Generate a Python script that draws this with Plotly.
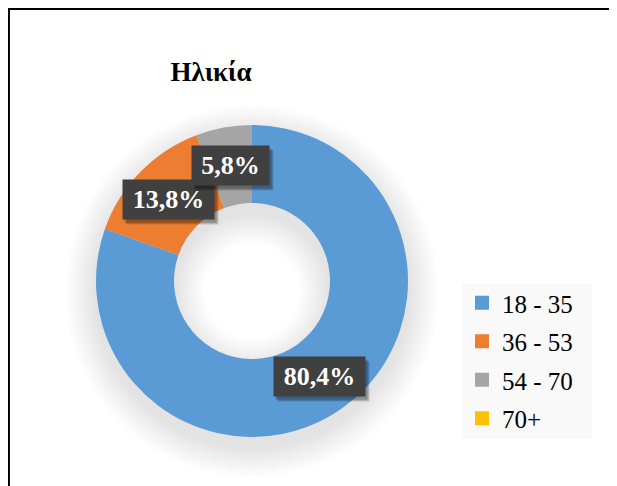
import math
import plotly.graph_objects as go

# ---- data ----
categories = ["18 - 35", "36 - 53", "54 - 70", "70+"]
values = [80.4, 13.8, 5.8, 0.0]
colors = ["#5B9BD5", "#ED7D31", "#A5A5A5", "#FFC000"]
title_text = "Ηλικία"

# ---- layout geometry (pixels in the screenshot; page body has an 8px margin) ----
W, H = 617, 486
OFF = 8
cx, cy = 252, 281
R = 156
hole = 0.5
SERIF = "Liberation Serif"


def px(x):
    return (x - OFF) / W


def py(y):
    return 1 - (y - OFF) / H


fig = go.Figure()

# soft drop shadow of the ring (stacked translucent rings)
N = 14
dy = 10
r_in = R * hole
for k in range(N):
    s = 2 + k * 2.2
    ro = R + s
    ri = max(r_in - s, 1)
    fig.add_trace(go.Pie(
        values=[1], labels=["shadow%d" % k], sort=False,
        marker=dict(colors=["rgba(0,0,0,0.009)"], line=dict(width=0)),
        hole=ri / ro, textinfo="none", hoverinfo="skip", showlegend=False,
        domain=dict(x=[px(cx - ro), px(cx + ro)], y=[py(cy + dy + ro), py(cy + dy - ro)]),
    ))

# main donut
fig.add_trace(go.Pie(
    labels=categories, values=values, sort=False, direction="clockwise", rotation=0,
    hole=hole, marker=dict(colors=colors, line=dict(width=0)),
    textinfo="none", hoverinfo="label+percent", showlegend=False,
    domain=dict(x=[px(cx - R), px(cx + R)], y=[py(cy + R), py(cy - R)]),
))

# legend entries (one per category, same colours as the slices)
for i, (cat, col) in enumerate(zip(categories, colors)):
    fig.add_trace(go.Scatter(
        x=[None], y=[None], mode="markers", name=cat, legendgroup="g%d" % i,
        marker=dict(symbol="square", size=14, color=col, line=dict(width=0)),
        hoverinfo="skip", showlegend=True,
    ))

# data labels (positioned at mid-angle of each slice, mid-radius)
total = sum(values)
cum = 0.0
rm = (R + r_in) / 2
annotations = []
PAD = 4
for v in values:
    if v <= 0:
        cum += v
        continue
    mid = (cum + v / 2) / total * 2 * math.pi
    cum += v
    lx = cx + rm * math.sin(mid)
    ly = cy - rm * math.cos(mid)
    txt = ("%.1f%%" % v).replace(".", ",")
    bw = 14 * len(txt) + 21 - 2 * PAD
    bh = 39 - 2 * PAD
    common = dict(xref="paper", yref="paper", showarrow=False, xanchor="center",
                  yanchor="middle", width=bw, height=bh, borderpad=PAD, align="center",
                  valign="middle")
    for j in range(3):
        annotations.append(dict(
            x=px(lx + 2 + j), y=py(ly + 3 + j), text="\u00a0",
            font=dict(family=SERIF, size=26, color="rgba(0,0,0,0)"),
            bgcolor="rgba(0,0,0,0.15)", **common,
        ))
    annotations.append(dict(
        x=px(lx), y=py(ly), text="<b>%s</b>" % txt,
        font=dict(family=SERIF, size=26, color="white"),
        bgcolor="#404040", **common,
    ))

# chart frame (only top and left edges fall inside the picture) + legend panel
shapes = [
    dict(type="rect", xref="paper", yref="paper", x0=px(462), x1=px(592), y0=py(439), y1=py(284),
         fillcolor="#F9F9F9", line=dict(width=0), layer="above"),
    dict(type="line", xref="paper", yref="paper", x0=px(8.7), x1=1.05, y0=py(8.7), y1=py(8.7),
         line=dict(color="black", width=2.5)),
    dict(type="line", xref="paper", yref="paper", x0=px(8.7), x1=px(8.7), y0=py(7.5), y1=-0.05,
         line=dict(color="black", width=2.5)),
]

fig.update_layout(
    width=W, height=H,
    margin=dict(l=0, r=0, t=0, b=0),
    paper_bgcolor="white", plot_bgcolor="white",
    xaxis=dict(visible=False), yaxis=dict(visible=False),
    title=dict(text="<b>%s</b>" % title_text, x=px(211), xanchor="center",
               y=py(72), yanchor="middle", font=dict(family=SERIF, size=27, color="black")),
    legend=dict(x=px(462), y=py(280), xanchor="left", yanchor="top",
                bgcolor="rgba(0,0,0,0)", font=dict(family=SERIF, size=25, color="black"),
                traceorder="grouped", tracegroupgap=3,
                itemclick=False, itemdoubleclick=False),
    annotations=annotations,
    shapes=shapes,
)

fig.write_html("out.html")
